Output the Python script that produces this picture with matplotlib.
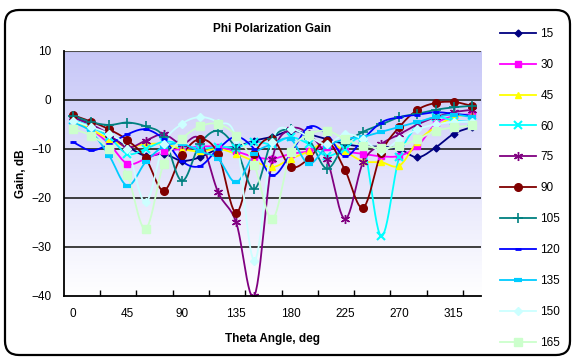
import numpy as np
import matplotlib
matplotlib.use("Agg")
import matplotlib.pyplot as plt
from matplotlib.patches import FancyBboxPatch
from matplotlib.transforms import IdentityTransform

plt.rcParams['font.family'] = ['Liberation Sans', 'DejaVu Sans']

# theta angles (deg), one category every 15 degrees
theta = list(range(0, 331, 15))

g15 = [-3.5, -5, -7.5, -9.5, -11.4, -11, -12.4, -11.7, -10, -9.5, -8.3, -7.5, -6.3, -7, -8, -9, -9.5, -9.5, -10, -11.7, -9.7, -6.9, -5.5]
g30 = [-4, -6, -9, -13, -12, -10.5, -10, -9.5, -9.6, -10.5, -11.6, -12, -11, -10.5, -9.5, -10.5, -11, -11.5, -11.4, -9.4, -4.9, -3.3, -2.9]
g45 = [-4, -6, -8, -9.5, -9, -9, -10, -10.5, -10, -11, -12.5, -13.7, -12, -10.5, -8.5, -10.5, -12.5, -12.7, -13.4, -8.5, -5.5, -3.5, -3]
g60 = [-4, -5.5, -7.6, -11, -10, -8.5, -9, -10, -9.5, -9.7, -8.5, -9, -7.6, -9, -11.4, -10, -9, -27.8, -11.6, -5.3, -3.5, -4.2, -4.5]
g75 = [-3.5, -5, -7, -9.7, -8.3, -7, -9, -8, -18.8, -25, -40, -12, -6, -7, -12, -24.3, -12.7, -9, -7, -5, -3.5, -2.5, -2]
g90 = [-3.1, -4.4, -6, -8.2, -11.8, -18.5, -11.3, -8, -11, -23, -11, -8, -13.6, -12, -8.3, -14.3, -22, -10.8, -5.5, -2, -0.6, -0.4, -1.2]
g105 = [-3.2, -4.5, -5.1, -4.6, -5.4, -7.5, -16.5, -9, -6.3, -10, -18.2, -8, -6, -8, -14, -9, -6.5, -5, -3.5, -2.8, -2, -1.5, -1.2]
g120 = [-8.6, -10.3, -9, -7, -6, -8, -12.5, -13.5, -10, -7.5, -10, -15.4, -11, -5.5, -7, -11.5, -8, -4.6, -3.5, -3, -2.5, -2.8, -3.2]
g135 = [-4.5, -6.5, -11.4, -17.5, -12.7, -9.5, -9, -10.5, -12, -16.8, -11, -9, -8, -13, -9.5, -8, -7.5, -6.5, -5.5, -4.5, -3.5, -3, -3.5]
g150 = [-4.2, -5.5, -7, -10, -20.9, -9, -4.9, -3.5, -4.6, -8, -32.8, -8.5, -6, -7.5, -9, -7, -8, -10.5, -8, -6, -5, -4.5, -4.5]
g165 = [-5.9, -7.3, -10, -15.4, -26.3, -13, -8, -5.4, -4.9, -7.3, -13.3, -24.3, -10.7, -7.1, -6.3, -8, -9.3, -9.8, -9.4, -8, -6.3, -5.6, -5.2]

labels = ['15', '30', '45', '60', '75', '90', '105', '120', '135', '150', '165']
series = [g15, g30, g45, g60, g75, g90, g105, g120, g135, g150, g165]
colors = ['#000080', '#FF00FF', '#FFFF00', '#00FFFF', '#800080', '#800000',
          '#008080', '#0000FF', '#00CCFF', '#CCFFFF', '#CCFFCC']
markers = ['D', 's', '^', 'x', (6, 2, 0), 'o', '+', '_', '_', 'D', 's']
msizes = [3.5, 4.5, 4.5, 5.5, 6.5, 5.5, 6.5, 4, 5.5, 4, 5.5]
mews = [1, 1, 1, 1.5, 1, 1, 1.2, 2, 3, 1, 1]


def smooth(x, y, n=12):
    # Catmull-Rom curve through the points, like Excel smoothed lines
    x = np.asarray(x, float)
    y = np.asarray(y, float)
    px = np.concatenate([[2 * x[0] - x[1]], x, [2 * x[-1] - x[-2]]])
    py = np.concatenate([[2 * y[0] - y[1]], y, [2 * y[-1] - y[-2]]])
    xs, ys = [], []
    t = np.linspace(0, 1, n, endpoint=False)
    for i in range(1, len(px) - 2):
        for p, out in ((px, xs), (py, ys)):
            p0, p1, p2, p3 = p[i - 1], p[i], p[i + 1], p[i + 2]
            out.extend(0.5 * (2 * p1 + (-p0 + p2) * t
                              + (2 * p0 - 5 * p1 + 4 * p2 - p3) * t ** 2
                              + (-p0 + 3 * p1 - 3 * p2 + p3) * t ** 3))
    xs.append(x[-1])
    ys.append(y[-1])
    return np.array(xs), np.array(ys)


fig = plt.figure(figsize=(5.76, 3.59), dpi=100)
ax = fig.add_axes([0.111, 0.1755, 0.724, 0.6825])

# plot area gradient, lavender at top fading to white
grad = np.linspace(0, 1, 256).reshape(-1, 1)
top = np.array([0.78, 0.78, 0.97])
img = top[None, None, :] * (1 - grad[:, :, None]) + np.array([1, 1, 1])[None, None, :] * grad[:, :, None]
ax.imshow(img, extent=(-0.5, 22.5, -40, 10), aspect='auto', zorder=0)

idx = np.arange(len(theta))
for lab, ys, c, m, ms, mw in zip(labels, series, colors, markers, msizes, mews):
    sx, sy = smooth(idx, ys)
    ax.plot(sx, sy, color=c, lw=1.3, zorder=3)
    ax.plot(idx, ys, ls='none', marker=m, color=c, mfc=c, mec=c, ms=ms, mew=mw, zorder=4)
    ax.plot([], [], color=c, lw=1.3, marker=m, mfc=c, mec=c, ms=ms, mew=mw, label=lab)

for gy in [0, -10, -20, -30]:
    ax.axhline(gy, color='#303030', lw=1.3, zorder=2)
ax.axhline(10, color='#505050', lw=1.5, zorder=2)

ax.set_xlim(-0.5, 22.5)
ax.set_ylim(-40, 10)
ax.set_yticks(range(-40, 11, 10))
ax.set_xticks(idx[::3])
ax.set_xticklabels([str(t) for t in theta[::3]])
ax.set_xticks(np.arange(1.5, 22, 2), minor=True)
ax.tick_params(axis='x', which='major', length=0, pad=9, labelsize=8.5)
ax.tick_params(axis='x', which='minor', direction='in', length=4, width=1, color='black')
ax.tick_params(axis='y', length=0, pad=9, labelsize=8.5)
for s in ['top', 'right']:
    ax.spines[s].set_visible(False)
for s in ['left', 'bottom']:
    ax.spines[s].set_linewidth(1.3)
    ax.spines[s].set_zorder(5)

ax.set_title('Phi Polarization Gain', fontsize=8.5, fontweight='bold', pad=14)
ax.set_xlabel('Theta Angle, deg', fontsize=8.5, fontweight='bold', labelpad=9)
ax.set_ylabel('Gain, dB', fontsize=8.5, fontweight='bold', labelpad=3)

fig.legend(loc='upper left', bbox_to_anchor=(0.85, 0.952), frameon=False,
           fontsize=8.5, handlelength=3.0, handletextpad=0.4, labelspacing=1.6)

frame = FancyBboxPatch((5, 4), 565, 345, boxstyle='round,pad=0,rounding_size=14',
                       transform=IdentityTransform(), fill=False, lw=1.6, ec='black')
fig.patches.append(frame)

fig.savefig('out.png', dpi=100)
